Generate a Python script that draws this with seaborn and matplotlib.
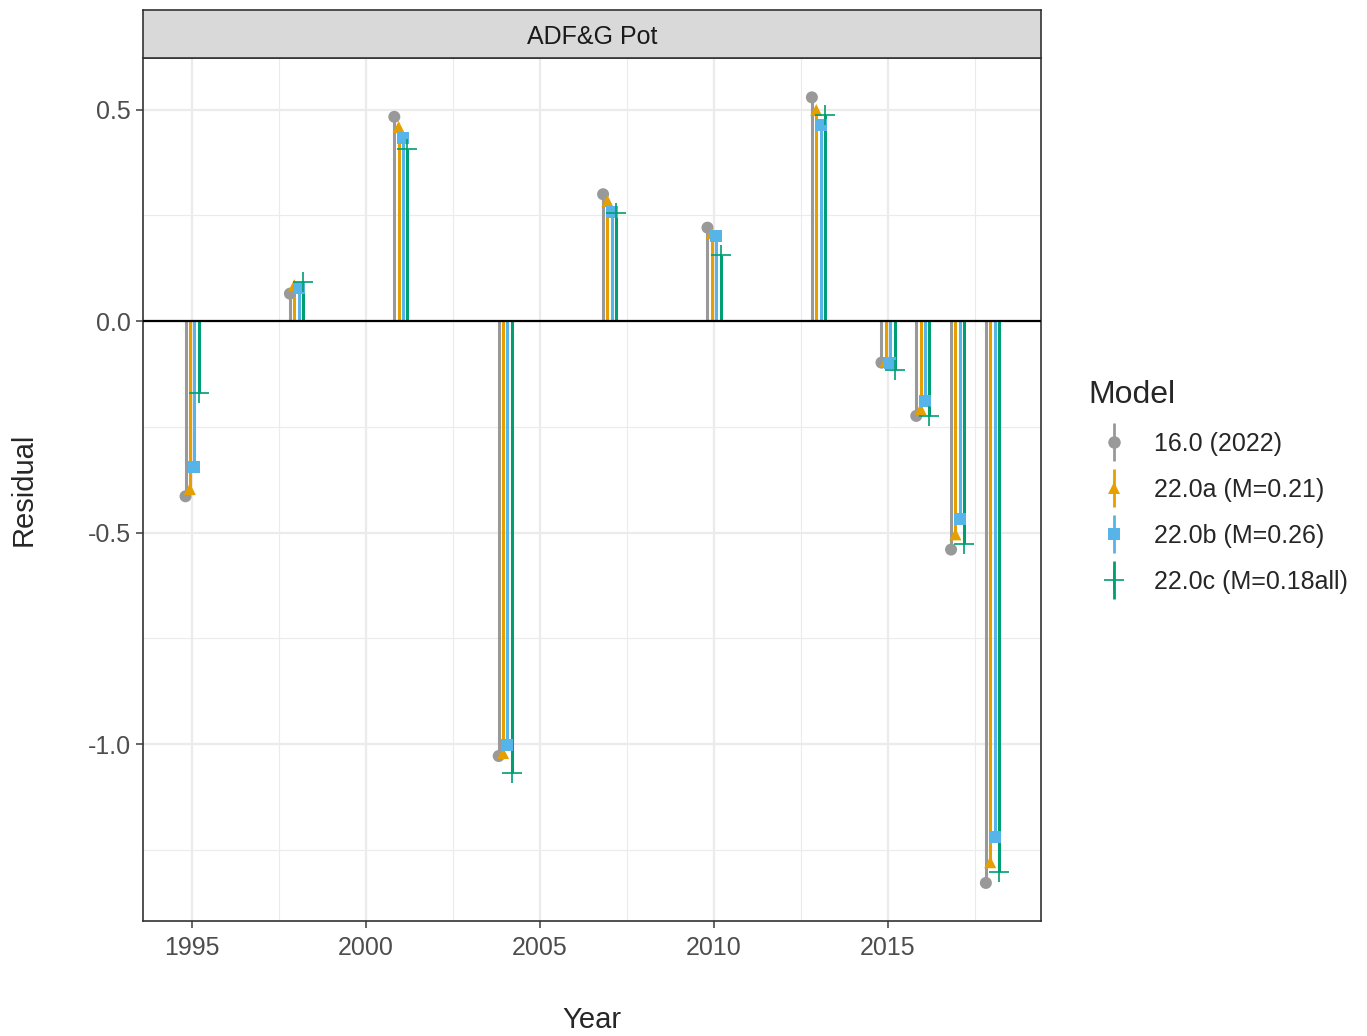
import numpy as np
import matplotlib
matplotlib.use("Agg")
import matplotlib.pyplot as plt
from matplotlib.lines import Line2D
from matplotlib.legend_handler import HandlerTuple
import pandas as pd
import seaborn as sns

years = [1995, 1998, 2001, 2004, 2007, 2010, 2013, 2015, 2016, 2017, 2018]
models = ["16.0 (2022)", "22.0a (M=0.21)", "22.0b (M=0.26)", "22.0c (M=0.18all)"]
res_160 = [-0.414, 0.065, 0.483, -1.028, 0.300, 0.221, 0.529, -0.098, -0.224, -0.540, -1.328]
res_22a = [-0.397, 0.085, 0.459, -1.021, 0.284, 0.208, 0.499, -0.095, -0.208, -0.504, -1.279]
res_22b = [-0.345, 0.078, 0.434, -1.002, 0.258, 0.202, 0.463, -0.100, -0.188, -0.468, -1.220]
res_22c = [-0.170, 0.093, 0.407, -1.068, 0.256, 0.157, 0.488, -0.116, -0.224, -0.526, -1.303]

colors = ["#999999", "#E69F00", "#56B4E9", "#009E73"]
marks = ["o", "^", "s", "+"]
offsets = [-0.1875, -0.0625, 0.0625, 0.1875]

rows = []
for m, vals, off in zip(models, [res_160, res_22a, res_22b, res_22c], offsets):
    for y, v in zip(years, vals):
        rows.append({"Year": y + off, "Residual": v, "Model": m})
df = pd.DataFrame(rows)

sns.set_style("white")
plt.rcParams['font.family'] = ['Liberation Sans', 'DejaVu Sans']

fig = plt.figure(figsize=(13.67, 10.36), dpi=100)
ax = fig.add_axes([0.1046, 0.111, 0.657, 0.833])

# grid
for v in [0.5, 0.0, -0.5, -1.0]:
    ax.axhline(v, color="#ebebeb", lw=1.6, zorder=0)
for v in [0.25, -0.25, -0.75, -1.25]:
    ax.axhline(v, color="#ebebeb", lw=0.8, zorder=0)
for v in [1995, 2000, 2005, 2010, 2015]:
    ax.axvline(v, color="#ebebeb", lw=1.6, zorder=0)
for v in [1997.5, 2002.5, 2007.5, 2012.5, 2017.5]:
    ax.axvline(v, color="#ebebeb", lw=0.8, zorder=0)

for m, c in zip(models, colors):
    sub = df[df["Model"] == m]
    ax.vlines(sub["Year"], 0, sub["Residual"], color=c, lw=2.2, zorder=2)

ax.axhline(0, color="black", lw=1.6, zorder=3)

filled = df[df["Model"] != models[3]]
sns.scatterplot(data=filled, x="Year", y="Residual", hue="Model", style="Model",
                palette=colors[:3], markers=dict(zip(models[:3], marks[:3])),
                hue_order=models[:3], style_order=models[:3],
                s=75, linewidth=0, ax=ax, legend=False, zorder=4)
# plus marker drawn separately (line-art marker)
sub = df[df["Model"] == models[3]]
sns.scatterplot(data=sub, x="Year", y="Residual", marker="+", s=210, color=colors[3],
                linewidth=1.2, ax=ax, legend=False, zorder=5)

ax.set_xlim(1993.59, 2019.40)
ax.set_ylim(-1.418, 0.622)
ax.set_xticks([1995, 2000, 2005, 2010, 2015])
ax.set_yticks([0.5, 0.0, -0.5, -1.0])
ax.set_yticklabels(["0.5", "0.0", "-0.5", "-1.0"])
ax.tick_params(axis="both", labelsize=18, colors="#4d4d4d", length=5, width=1.2,
               direction="out", left=True, bottom=True)
ax.tick_params(axis="x", pad=6)
for lab in ax.get_xticklabels() + ax.get_yticklabels():
    lab.set_color("#4d4d4d")
for s in ax.spines.values():
    s.set_color("#333333")
    s.set_linewidth(1.2)
ax.set_xlabel("Year", fontsize=21, labelpad=33)
ax.set_ylabel("Residual", fontsize=21, labelpad=36)

# facet strip
strip = fig.add_axes([0.1046, 0.944, 0.657, 0.0463])
strip.set_facecolor("#d9d9d9")
strip.set_xticks([])
strip.set_yticks([])
for s in strip.spines.values():
    s.set_color("#333333")
    s.set_linewidth(1.2)
strip.text(0.5, 0.44, "ADF&G Pot", ha="center", va="center", fontsize=18, color="#1a1a1a",
           transform=strip.transAxes)

handles = []
for c, mk in zip(colors, marks):
    stem = Line2D([], [], marker="|", markersize=28, color=c, markeredgewidth=2, linestyle="None")
    pt = Line2D([], [], marker=mk, markersize=9 if mk != "+" else 15, color=c,
                markeredgewidth=1.2 if mk == "+" else 0, linestyle="None")
    handles.append((stem, pt))
leg = fig.legend(handles, models, handler_map={tuple: HandlerTuple(ndivide=1, pad=0)},
                 title="Model", loc="upper left", bbox_to_anchor=(0.780, 0.655),
                 frameon=False, fontsize=18, title_fontsize=23, labelspacing=0.88,
                 handlelength=2.0, handletextpad=0.6)
leg._legend_box.align = "left"

fig.savefig("out.png", dpi=100)
